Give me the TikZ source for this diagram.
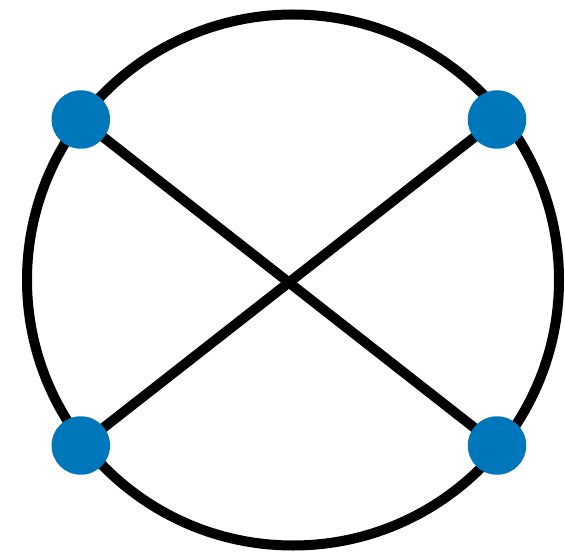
\documentclass[tikz,border=0pt]{standalone}
\definecolor{dotblue}{RGB}{0,118,187}
\tikzset{
  edge/.style={line width=10pt, draw=black},
  vert/.style={circle, fill=dotblue, minimum size=58.5pt, inner sep=0pt, draw=none}
}
\begin{document}
\begin{tikzpicture}[x=1pt,y=-1pt]
\useasboundingbox (0,0) rectangle (565,556);
\coordinate (c) at (293,280);
\draw[edge] (c) ellipse[x radius=266, y radius=265.5];
\coordinate (a) at (80.8,119.5);
\coordinate (b) at (497,119.5);
\coordinate (d) at (80.8,445.5);
\coordinate (e) at (497,445.5);
\draw[edge] (a) -- (e);
\draw[edge] (b) -- (d);
\node[vert] (na) at (a) {};
\node[vert] (nb) at (b) {};
\node[vert] (nd) at (d) {};
\node[vert] (ne) at (e) {};
\end{tikzpicture}
\end{document}
